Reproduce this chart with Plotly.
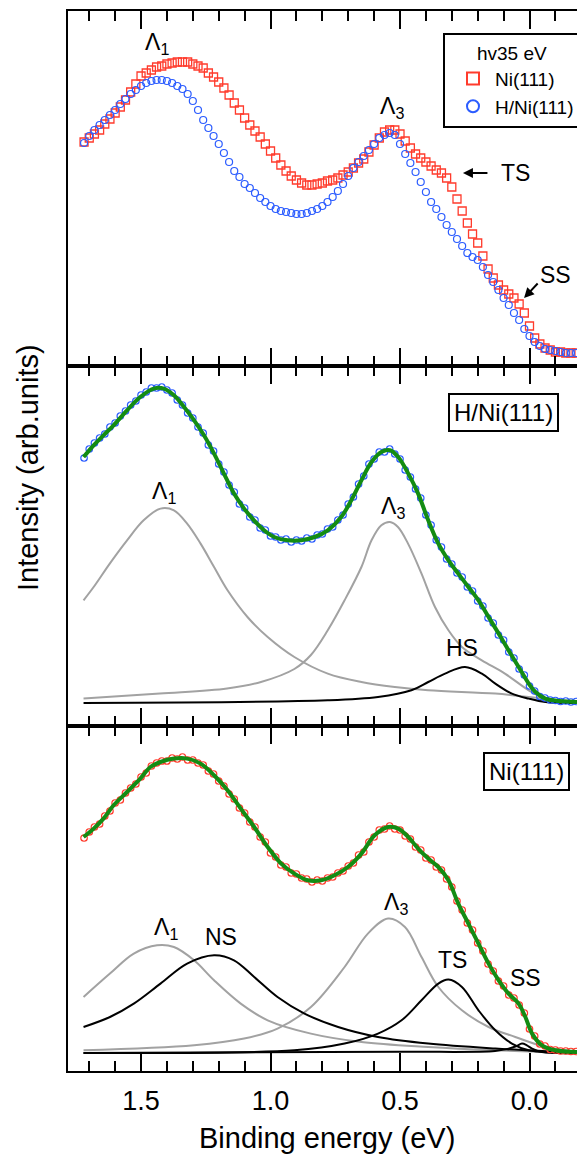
import plotly.graph_objects as go

FONT = "Arial, 'Liberation Sans', sans-serif"

# ---------------- data (binding energy in eV, intensity in arb. units) ----------------
energy = [1.72, 1.70, 1.68, 1.66, 1.64, 1.62, 1.60, 1.58, 1.56, 1.54,
          1.52, 1.50, 1.48, 1.46, 1.44, 1.42, 1.40, 1.38, 1.36, 1.34,
          1.32, 1.30, 1.28, 1.26, 1.24, 1.22, 1.20, 1.18, 1.16, 1.14,
          1.12, 1.10, 1.08, 1.06, 1.04, 1.02, 1.00, 0.98, 0.96, 0.94,
          0.92, 0.90, 0.88, 0.86, 0.84, 0.82, 0.80, 0.78, 0.76, 0.74,
          0.72, 0.70, 0.68, 0.66, 0.64, 0.62, 0.60, 0.58, 0.56, 0.54,
          0.52, 0.50, 0.48, 0.46, 0.44, 0.42, 0.40, 0.38, 0.36, 0.34,
          0.32, 0.30, 0.28, 0.26, 0.24, 0.22, 0.20, 0.18, 0.16, 0.14,
          0.12, 0.10, 0.08, 0.06, 0.04, 0.02, 0.00, -0.02, -0.04, -0.06,
          -0.08, -0.10, -0.12, -0.14, -0.16, -0.18]

# top panel: raw spectra hv = 35 eV
ni_raw = [224, 228, 232, 236, 242, 247, 253, 259, 266, 274,
          282, 290, 293, 296, 299, 300, 302, 303, 304, 304,
          304, 302, 300, 298, 293, 289, 284, 278, 271, 263,
          256, 248, 241, 235, 229, 222, 215, 208, 201, 195,
          190, 186, 183, 181, 181, 182, 183, 185, 186, 188,
          191, 194, 198, 203, 207, 214, 221, 228, 234, 236,
          236, 232, 225, 218, 212, 208, 204, 200, 196, 193,
          188, 179, 167, 155, 143, 132, 123, 110, 97, 88,
          81, 76, 72, 68, 62, 53, 40, 28, 22, 18,
          16, 14, 14, 13, 13, 13]
hni_raw = [223, 230, 236, 241, 246, 251, 256, 262, 267, 272,
           276, 280, 283, 285, 286, 286, 285, 283, 280, 277,
           272, 265, 256, 246, 238, 230, 222, 213, 204, 195,
           189, 182, 178, 173, 168, 164, 160, 157, 155, 154,
           153, 152, 152, 153, 155, 157, 160, 164, 169, 175,
           182, 190, 198, 204, 210, 216, 222, 228, 231, 233,
           231, 222, 212, 203, 194, 184, 174, 164, 157, 149,
           141, 134, 127, 120, 113, 109, 106, 99, 91, 84,
           76, 68, 61, 53, 46, 37, 30, 24, 20, 17,
           16, 15, 14, 13, 13, 13]

# middle panel: H/Ni(111) data, fit and components
hni_data = [268, 277, 283, 288, 292, 299, 303, 310, 315, 321,
            325, 331, 334, 338, 338, 339, 336, 333, 326, 321,
            313, 308, 299, 293, 281, 275, 262, 254, 241, 234,
            222, 218, 209, 206, 198, 196, 190, 189, 186, 187,
            184, 186, 185, 188, 187, 191, 192, 197, 199, 206,
            211, 222, 229, 242, 250, 262, 267, 274, 274, 277,
            272, 267, 256, 249, 237, 228, 211, 201, 186, 179,
            167, 162, 153, 149, 139, 135, 125, 120, 108, 103,
            91, 86, 74, 68, 57, 51, 40, 35, 29.5, 28,
            26, 25.5, 24.5, 25, 24, 24.5]
hni_fit_e = [1.722, 1.683, 1.645, 1.606, 1.554, 1.503, 1.451, 1.412, 1.373, 1.334,
             1.295, 1.257, 1.218, 1.180, 1.141, 1.102, 1.064, 1.025, 0.986, 0.934,
             0.882, 0.830, 0.779, 0.727, 0.688, 0.649, 0.610, 0.572, 0.539, 0.507,
             0.468, 0.430, 0.391, 0.352, 0.313, 0.275, 0.236, 0.197, 0.158, 0.119,
             0.081, 0.042, 0.003, -0.023, -0.061, -0.113, -0.191]
hni_fit = [269, 280.7, 290.7, 300.7, 315.7, 329, 337.4, 337.4, 330.7, 319,
           305.7, 290.7, 272.4, 252.4, 232.4, 217.4, 205.7, 195.7, 189, 185.7,
           185.7, 189, 195.7, 209, 225.7, 245.7, 264, 274, 275.7, 269,
           252.4, 232.4, 205.7, 182.4, 165.7, 152.4, 139, 125.7, 109, 92.4,
           75.7, 59, 42.4, 34, 27.4, 25, 24]
hni_l1_e = [1.722, 1.683, 1.620, 1.554, 1.490, 1.425, 1.373, 1.322, 1.270, 1.218,
            1.166, 1.089, 1.011, 0.908, 0.779, 0.649, 0.520, 0.391, 0.132, 0.003, -0.191]
hni_l1 = [125.7, 139, 162.7, 185.7, 205.7, 217.4, 215.7, 202.4, 182.4, 159,
          135.7, 109, 89, 69, 52.4, 44, 39, 35.7, 32.4, 29, 24]
hni_l3_e = [1.722, 1.427, 1.168, 1.037, 0.908, 0.844, 0.779, 0.714, 0.649, 0.610,
            0.572, 0.539, 0.508, 0.469, 0.417, 0.365, 0.313, 0.261, 0.184, 0.095,
            0.003, -0.061, -0.191]
hni_l3 = [27.4, 32.4, 37.4, 44, 57, 71, 95.7, 125.7, 159, 185.7,
          200.7, 204, 199, 182.4, 152.4, 119, 95.7, 79, 65.7, 52.4,
          35.7, 27.4, 24]
hni_hs_e = [1.722, 0.779, 0.585, 0.456, 0.391, 0.326, 0.249, 0.184, 0.132, 0.068,
            0.003, -0.061, -0.191]
hni_hs = [23, 25.7, 29, 35.7, 44, 52.4, 59, 52.4, 42.4, 32.4,
          27.4, 24, 23]

# bottom panel: Ni(111) data, fit and components
ni_data = [233, 239, 244, 247, 255, 260, 268, 271, 278, 283,
           287, 294, 298, 305, 308, 310, 310, 313, 312, 314,
           311, 311, 308, 306, 300, 297, 290, 285, 277, 272,
           263, 258, 249, 244, 234, 229, 218, 214, 206, 204,
           198, 197, 193, 192, 189, 191, 190, 193, 194, 198,
           200, 205, 208, 216, 219, 229, 234, 241, 242, 245,
           242, 241, 235, 232, 224, 221, 213, 211, 204, 201,
           192, 184, 170, 161, 148, 141, 128, 120, 107, 100,
           90, 85, 76, 73, 66, 58, 42, 35, 27, 25,
           21.5, 21, 20, 20, 19.5, 19.5]
ni_fit_e = [1.722, 1.683, 1.645, 1.606, 1.554, 1.503, 1.464, 1.425, 1.373, 1.322,
            1.270, 1.218, 1.166, 1.115, 1.063, 1.011, 0.959, 0.908, 0.856, 0.805,
            0.753, 0.701, 0.649, 0.598, 0.546, 0.507, 0.468, 0.430, 0.391, 0.352,
            0.313, 0.275, 0.236, 0.197, 0.158, 0.119, 0.081, 0.042, 0.016, -0.010,
            -0.048, -0.100, -0.191]
ni_fit = [234, 242.4, 252.4, 265.7, 279, 292.4, 304, 309, 312.4, 312.4,
          307.4, 295.7, 280.7, 262.4, 244, 224, 207.4, 197.4, 190.7, 190.7,
          195.7, 204, 217.4, 235.7, 244, 242.4, 234, 222.4, 212.4, 204,
          190.7, 167.4, 147.4, 127.4, 107.4, 90.7, 77.4, 67.4, 54, 37.4,
          25.7, 20.7, 19]
ni_l1_e = [1.722, 1.620, 1.528, 1.438, 1.373, 1.295, 1.218, 1.115, 1.011, 0.844,
           0.649, 0.391, 0.132, -0.191]
ni_l1 = [74, 97.4, 117.4, 125.7, 124, 110.7, 90.7, 67.4, 50.7, 37.4,
         29, 24, 20.7, 18]
ni_ns_e = [1.722, 1.620, 1.528, 1.425, 1.322, 1.218, 1.141, 1.063, 0.973, 0.869,
           0.739, 0.585, 0.391, 0.132, -0.191]
ni_ns = [44, 54, 67.4, 87.4, 107.4, 115.7, 110.7, 94, 74, 57.4,
         44, 34, 27.4, 22.4, 18]
ni_l3_e = [1.722, 1.295, 1.102, 0.973, 0.844, 0.714, 0.624, 0.546, 0.481, 0.417,
           0.352, 0.261, 0.158, 0.055, -0.061, -0.191]
ni_l3 = [20.7, 25.7, 32.4, 42.4, 64, 104, 137.4, 152.4, 144, 114,
         84, 60.7, 44, 34, 24, 19]
ni_ts_e = [1.722, 0.908, 0.714, 0.585, 0.494, 0.417, 0.352, 0.313, 0.261, 0.197,
           0.132, 0.068, 0.003, -0.191]
ni_ts = [18, 20.7, 27.4, 37.4, 50.7, 70.7, 87.4, 91.4, 84, 60.7,
         40.7, 27.4, 20.7, 18]
ni_ss_e = [1.722, 0.500, 0.133, 0.081, 0.052, 0.029, 0.010, -0.010, -0.048, -0.191]
ni_ss = [18, 19.2, 20, 22.4, 24.7, 27.4, 25.7, 22.4, 19, 18]

tick_vals = [1.5, 1.0, 0.5, 0.0]
tick_text = ["1.5", "1.0", "0.5", "0.0"]

# ---------------- styling ----------------
RED = "#ff3b2c"
BLUE = "#2b5cff"
GREEN = "#138c13"
GRAY = "#a2a2a2"

fig = go.Figure()

# top panel
fig.add_trace(go.Scatter(x=energy, y=ni_raw, mode="markers", name="Ni(111)",
                         marker=dict(symbol="square-open", size=8, color=RED, line=dict(width=1.3)),
                         xaxis="x", yaxis="y"))
fig.add_trace(go.Scatter(x=energy, y=hni_raw, mode="markers", name="H/Ni(111)",
                         marker=dict(symbol="circle-open", size=7, color=BLUE, line=dict(width=1.2)),
                         xaxis="x", yaxis="y"))

# middle panel
for ex, ey, col in [(hni_l1_e, hni_l1, GRAY), (hni_l3_e, hni_l3, GRAY), (hni_hs_e, hni_hs, "black")]:
    fig.add_trace(go.Scatter(x=ex, y=ey, mode="lines", line=dict(color=col, width=2, shape="spline"),
                             showlegend=False, xaxis="x2", yaxis="y2"))
fig.add_trace(go.Scatter(x=energy, y=hni_data, mode="markers", showlegend=False,
                         marker=dict(symbol="circle-open", size=6.5, color=BLUE, line=dict(width=1.2)),
                         xaxis="x2", yaxis="y2"))
fig.add_trace(go.Scatter(x=hni_fit_e, y=hni_fit, mode="lines", showlegend=False,
                         line=dict(color=GREEN, width=4, shape="spline"), xaxis="x2", yaxis="y2"))

# bottom panel
for ex, ey, col in [(ni_l1_e, ni_l1, GRAY), (ni_l3_e, ni_l3, GRAY), (ni_ns_e, ni_ns, "black"),
                    (ni_ts_e, ni_ts, "black"), (ni_ss_e, ni_ss, "black")]:
    fig.add_trace(go.Scatter(x=ex, y=ey, mode="lines", line=dict(color=col, width=2, shape="spline"),
                             showlegend=False, xaxis="x3", yaxis="y3"))
fig.add_trace(go.Scatter(x=energy, y=ni_data, mode="markers", showlegend=False,
                         marker=dict(symbol="circle-open", size=6.5, color=RED, line=dict(width=1.2)),
                         xaxis="x3", yaxis="y3"))
fig.add_trace(go.Scatter(x=ni_fit_e, y=ni_fit, mode="lines", showlegend=False,
                         line=dict(color=GREEN, width=4, shape="spline"), xaxis="x3", yaxis="y3"))

XR = [1.782, -0.2143]


def xaxis(anchor, labels):
    return dict(range=XR, anchor=anchor, showline=True, linecolor="black", linewidth=2,
                mirror="ticks", ticks="inside", ticklen=18, tickwidth=2, tickcolor="black",
                tickvals=tick_vals, ticktext=tick_text, showticklabels=labels,
                ticklabelstandoff=5,
                showgrid=False, zeroline=False,
                minor=dict(ticks="inside", ticklen=10, tickwidth=2, tickcolor="black",
                           dtick=0.1, tick0=0, showgrid=False),
                tickfont=dict(size=27, color="black", family=FONT))


def yaxis(domain, top):
    return dict(domain=domain, range=[0, top], showline=True, linecolor="black", linewidth=2,
                ticks="", showticklabels=False, showgrid=False, zeroline=False, mirror=False)


# page has an 8 px body margin: the figure is laid out 8 px up/left of page coordinates
H = 1060.0
PW = 517.0
fig.update_layout(
    width=577, height=1146,
    margin=dict(l=60, r=0, t=3, b=83, autoexpand=False),
    paper_bgcolor="white", plot_bgcolor="white",
    font=dict(family=FONT, color="black"),
    xaxis=xaxis("y", False),
    xaxis2=xaxis("y2", False),
    xaxis3=xaxis("y3", True),
    yaxis=yaxis([705 / H, 1.0], 355),
    yaxis2=yaxis([345 / H, 705 / H], 360),
    yaxis3=yaxis([0.0, 345 / H], 345),
    showlegend=True,
    legend=dict(x=(443 - 68) / PW, y=(1071 - 33) / H, xanchor="left", yanchor="top",
                bordercolor="black", borderwidth=2, bgcolor="white",
                font=dict(size=19, family=FONT, color="black"),
                title=dict(text="hv35 eV", side="top center", font=dict(size=19, family=FONT)),
                itemsizing="constant", itemwidth=34, indentation=6),
)

ann = []


def label(text, x, y, yref, size=23, **kw):
    d = dict(text=text, x=x, y=y, xref="x" if yref == "y" else "x" + yref[1:], yref=yref,
             showarrow=False, font=dict(size=size, family=FONT, color="black"),
             xanchor="center", yanchor="middle")
    d.update(kw)
    ann.append(d)


# top panel labels
label("Λ<sub>1</sub>", 1.438, 323, "y")
label("Λ<sub>3</sub>", 0.531, 259, "y")
label("TS", 0.056, 193, "y")
label("SS", -0.102, 91, "y")
# arrows (TS, SS)
ann.append(dict(x=0.257, y=193, xref="x", yref="y", text="", showarrow=True, ax=26, ay=0,
                arrowhead=2, arrowsize=1, arrowwidth=2, arrowcolor="black"))
ann.append(dict(x=0.021, y=68, xref="x", yref="y", text="", showarrow=True, ax=15, ay=-16,
                arrowhead=2, arrowsize=1, arrowwidth=2, arrowcolor="black"))

# middle panel labels
label("Λ<sub>1</sub>", 1.411, 234, "y2")
label("Λ<sub>3</sub>", 0.527, 219, "y2")
label("HS", 0.261, 78, "y2")
label("H/Ni(111)", 0.102, 314, "y2", size=24, bordercolor="black", borderwidth=2,
      borderpad=4, bgcolor="white")

# bottom panel labels
label("Λ<sub>1</sub>", 1.403, 143, "y3")
label("NS", 1.191, 134, "y3")
label("Λ<sub>3</sub>", 0.515, 168, "y3")
label("TS", 0.299, 111, "y3")
label("SS", 0.017, 93, "y3")
label("Ni(111)", 0.010, 300, "y3", size=24, bordercolor="black", borderwidth=2,
      borderpad=4, bgcolor="white")

# axis titles
ann.append(dict(text="Binding energy (eV)", x=0.5, y=(1071 - 1138) / H, xref="paper", yref="paper",
                showarrow=False, xanchor="center", yanchor="middle",
                font=dict(size=29, family=FONT, color="black")))
ann.append(dict(text="Intensity (arb.units)", x=(28 - 68) / PW, y=(1071 - 468) / H,
                xref="paper", yref="paper", showarrow=False, textangle=-90,
                xanchor="center", yanchor="middle",
                font=dict(size=29, family=FONT, color="black")))

fig.update_layout(annotations=ann)

fig.write_html("out.html")
